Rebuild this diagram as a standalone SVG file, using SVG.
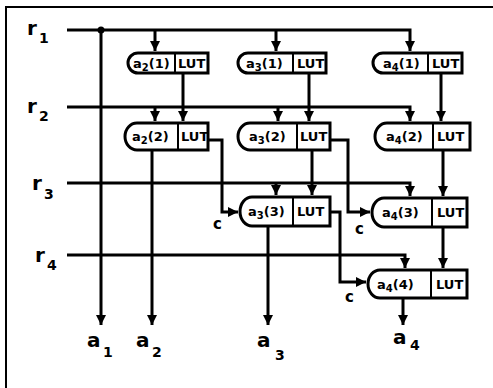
<svg xmlns="http://www.w3.org/2000/svg" width="493" height="388" viewBox="0 0 493 388">
<defs>
<marker id="ah" markerUnits="userSpaceOnUse" markerWidth="11" markerHeight="10" refX="10" refY="5" orient="auto">
<path d="M0,0 L10,5 L0,10 Z" fill="#000"/>
</marker>
<style>
.ln{fill:none;stroke:#000;stroke-width:3;stroke-linejoin:miter}
.bx{fill:#fff;stroke:#000;stroke-width:3}
.dv{stroke:#000;stroke-width:2}
.bt{font-family:"DejaVu Sans","Liberation Sans",sans-serif;font-weight:bold;font-size:13px;fill:#000}
.lb{font-family:"DejaVu Sans","Liberation Sans",sans-serif;font-weight:bold;font-size:20px;fill:#000}
.sb{font-family:"DejaVu Sans","Liberation Sans",sans-serif;font-weight:bold;font-size:14px;fill:#000}
.cl{font-family:"DejaVu Sans","Liberation Sans",sans-serif;font-weight:bold;font-size:15px;fill:#000}
</style>
</defs>
<rect width="493" height="388" fill="#fff"/>
<path d="M6,388 V7 H493" fill="none" stroke="#000" stroke-width="2"/>

<g id="labels">
<text class="lb" x="27" y="35">r</text><text class="sb" x="39" y="43">1</text>
<text class="lb" x="27" y="113">r</text><text class="sb" x="39" y="121">2</text>
<text class="lb" x="32" y="190">r</text><text class="sb" x="44" y="199">3</text>
<text class="lb" x="35" y="262">r</text><text class="sb" x="47" y="270">4</text>
<text class="lb" x="87" y="347">a</text><text class="sb" x="103" y="357">1</text>
<text class="lb" x="136" y="347">a</text><text class="sb" x="152" y="357">2</text>
<text class="lb" x="257" y="347">a</text><text class="sb" x="275" y="360">3</text>
<text class="lb" x="393" y="344">a</text><text class="sb" x="410" y="350">4</text>
<text class="cl" x="213" y="229">c</text>
<text class="cl" x="355" y="234">c</text>
<text class="cl" x="345" y="302">c</text>
</g>

<g id="connectors">
<path class="ln" d="M67,30 H410 V51" marker-end="url(#ah)"/>
<path class="ln" d="M155,30 V51" marker-end="url(#ah)"/>
<path class="ln" d="M276,30 V51" marker-end="url(#ah)"/>
<circle cx="101" cy="30" r="3.5" fill="#000"/>
<path class="ln" d="M101,30 V325" marker-end="url(#ah)"/>
<path class="ln" d="M67,107 H410 V121" marker-end="url(#ah)"/>
<path class="ln" d="M155,107 V121" marker-end="url(#ah)"/>
<path class="ln" d="M278,107 V121" marker-end="url(#ah)"/>
<path class="ln" d="M67,183 H410 V196" marker-end="url(#ah)"/>
<path class="ln" d="M276,183 V195" marker-end="url(#ah)"/>
<path class="ln" d="M67,255 H405 V268" marker-end="url(#ah)"/>
<path class="ln" d="M183,73 V121" marker-end="url(#ah)"/>
<path class="ln" d="M309,73 V121" marker-end="url(#ah)"/>
<path class="ln" d="M441,73 V121" marker-end="url(#ah)"/>
<path class="ln" d="M312,150 V195" marker-end="url(#ah)"/>
<path class="ln" d="M443,150 V196" marker-end="url(#ah)"/>
<path class="ln" d="M443,227 V268" marker-end="url(#ah)"/>
<path class="ln" d="M208,140 H222 V212 H238" marker-end="url(#ah)"/>
<path class="ln" d="M330,140 H348 V212 H370" marker-end="url(#ah)"/>
<path class="ln" d="M330,212 H340 V282 H366" marker-end="url(#ah)"/>
<path class="ln" d="M152,150 V325" marker-end="url(#ah)"/>
<path class="ln" d="M268,226 V325" marker-end="url(#ah)"/>
<path class="ln" d="M403,298 V325" marker-end="url(#ah)"/>
</g>

<g id="a2_1">
<path class="bx" d="M138,53 H208 V73 H138 A10,10 0 0 1 138,53 Z"/>
<line class="dv" x1="175" y1="53" x2="175" y2="73"/>
<text class="bt" x="133" y="68">a<tspan font-size="10" dy="3">2</tspan><tspan dy="-3">(1)</tspan></text>
<text class="bt" x="178" y="68">LUT</text>
</g>
<g id="a3_1">
<path class="bx" d="M248,53 H326 V73 H248 A10,10 0 0 1 248,53 Z"/>
<line class="dv" x1="293" y1="53" x2="293" y2="73"/>
<text class="bt" x="246" y="68">a<tspan font-size="10" dy="3">3</tspan><tspan dy="-3">(1)</tspan></text>
<text class="bt" x="297" y="68">LUT</text>
</g>
<g id="a4_1">
<path class="bx" d="M383,53 H462 V73 H383 A10,10 0 0 1 383,53 Z"/>
<line class="dv" x1="428" y1="53" x2="428" y2="73"/>
<text class="bt" x="383" y="68">a<tspan font-size="10" dy="3">4</tspan><tspan dy="-3">(1)</tspan></text>
<text class="bt" x="432" y="68">LUT</text>
</g>

<g id="a2_2">
<path class="bx" d="M137,123 H208 V150 H137 A12,13.5 0 0 1 137,123 Z"/>
<line class="dv" x1="178" y1="123" x2="178" y2="150"/>
<text class="bt" x="132" y="141">a<tspan font-size="10" dy="3">2</tspan><tspan dy="-3">(2)</tspan></text>
<text class="bt" x="181" y="141">LUT</text>
</g>
<g id="a3_2">
<path class="bx" d="M250,123 H330 V150 H250 A12,13.5 0 0 1 250,123 Z"/>
<line class="dv" x1="297" y1="123" x2="297" y2="150"/>
<text class="bt" x="249" y="141">a<tspan font-size="10" dy="3">3</tspan><tspan dy="-3">(2)</tspan></text>
<text class="bt" x="300" y="141">LUT</text>
</g>
<g id="a4_2">
<path class="bx" d="M387,123 H470 V150 H387 A12,13.5 0 0 1 387,123 Z"/>
<line class="dv" x1="433" y1="123" x2="433" y2="150"/>
<text class="bt" x="386" y="141">a<tspan font-size="10" dy="3">4</tspan><tspan dy="-3">(2)</tspan></text>
<text class="bt" x="437" y="141">LUT</text>
</g>

<g id="a3_3">
<path class="bx" d="M252,197 H330 V226 H252 A12,14.5 0 0 1 252,197 Z"/>
<line class="dv" x1="293" y1="197" x2="293" y2="226"/>
<text class="bt" x="248" y="216">a<tspan font-size="10" dy="3">3</tspan><tspan dy="-3">(3)</tspan></text>
<text class="bt" x="297" y="216">LUT</text>
</g>
<g id="a4_3">
<path class="bx" d="M384,198 H467 V227 H384 A12,14.5 0 0 1 384,198 Z"/>
<line class="dv" x1="432" y1="198" x2="432" y2="227"/>
<text class="bt" x="382" y="217">a<tspan font-size="10" dy="3">4</tspan><tspan dy="-3">(3)</tspan></text>
<text class="bt" x="437" y="217">LUT</text>
</g>
<g id="a4_4">
<path class="bx" d="M380,270 H467 V298 H380 A12,14 0 0 1 380,270 Z"/>
<line class="dv" x1="431" y1="270" x2="431" y2="298"/>
<text class="bt" x="377" y="289">a<tspan font-size="10" dy="3">4</tspan><tspan dy="-3">(4)</tspan></text>
<text class="bt" x="436" y="289">LUT</text>
</g>
</svg>
